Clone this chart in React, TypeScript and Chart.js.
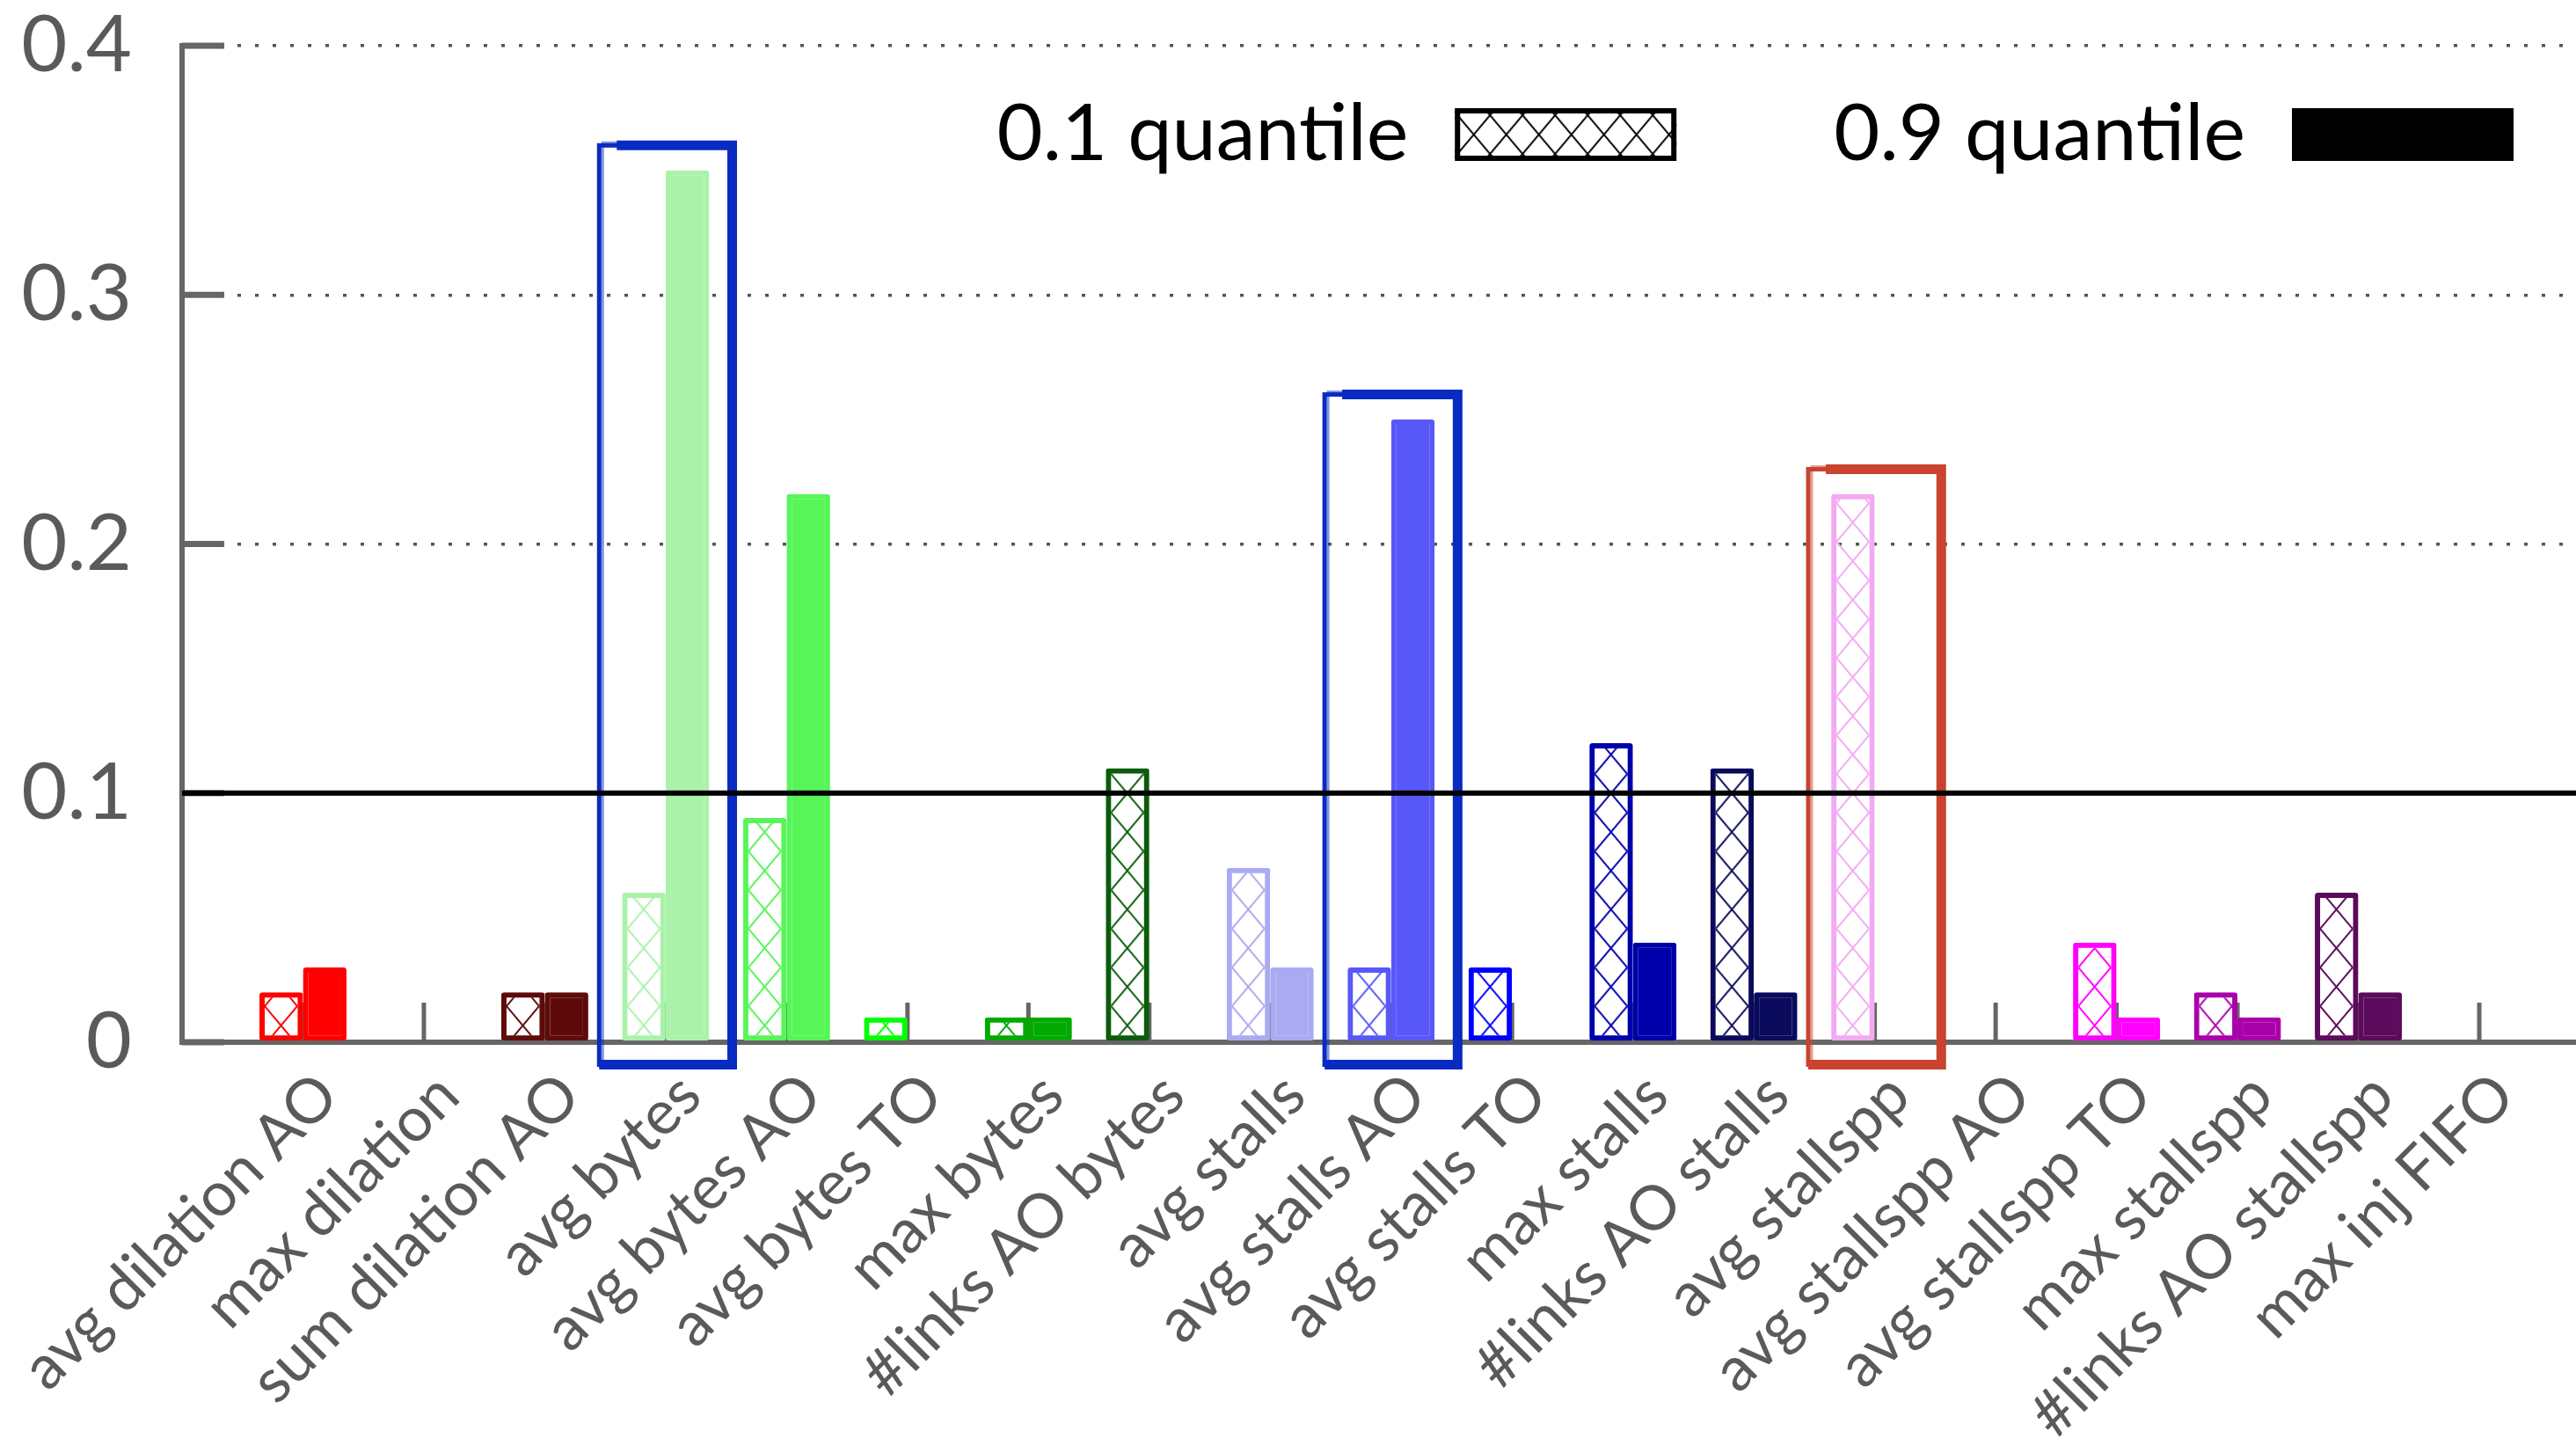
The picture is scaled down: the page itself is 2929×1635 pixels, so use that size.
import React, { useEffect, useRef } from "react";
import { Chart, registerables } from "chart.js";

Chart.register(...registerables);

// ---------------- data ----------------
const CATEGORIES = [
  "avg dilation AO",
  "max dilation",
  "sum dilation AO",
  "avg bytes",
  "avg bytes AO",
  "avg bytes TO",
  "max bytes",
  "#links AO bytes",
  "avg stalls",
  "avg stalls AO",
  "avg stalls TO",
  "max stalls",
  "#links AO stalls",
  "avg stallspp",
  "avg stallspp AO",
  "avg stallspp TO",
  "max stallspp",
  "#links AO stallspp",
  "max inj FIFO",
];

const SERIES_NAMES = ["0.1 quantile", "0.9 quantile"];

const P10 = [0.02, 0, 0.02, 0.06, 0.09, 0.01, 0.01, 0.11, 0.07, 0.03, 0.03, 0.12, 0.11, 0.22, 0, 0.04, 0.02, 0.06, 0];
const P90 = [0.03, 0, 0.02, 0.35, 0.22, 0, 0.01, 0, 0.03, 0.25, 0, 0.04, 0.02, 0, 0, 0.01, 0.01, 0.02, 0];

const COLORS = [
  "#ff0000",
  "#aa0000",
  "#5f0a0a",
  "#aaf2aa",
  "#58f558",
  "#00ff00",
  "#00aa00",
  "#0a5c0a",
  "#aaaaf2",
  "#5858f8",
  "#0000ff",
  "#0000aa",
  "#0a0a5c",
  "#f2aaf2",
  "#f558f5",
  "#ff00ff",
  "#aa00aa",
  "#5c0a5c",
  "#555555",
];

const Y_TICKS = [0, 0.1, 0.2, 0.3, 0.4];
const THRESHOLD = 0.1;

const HIGHLIGHTS = [
  { index: 3, color: "#0a2bc2" },
  { index: 9, color: "#0a2bc2" },
  { index: 13, color: "#c9432f" },
];

// ---------------- styles ----------------
const FONT = "Lato, 'Open Sans', 'DejaVu Sans', sans-serif";
const AXIS_GRAY = "#666666";
const TEXT_GRAY = "#5a5a5a";
const CAT_PCT = 0.72;
const BAR_BORDER = 6;
const TILE_W = 37;
const TILE_H = 44;

function makeTile(color: string, lw = 2): HTMLCanvasElement {
  const c = document.createElement("canvas");
  c.width = TILE_W;
  c.height = TILE_H;
  const g = c.getContext("2d")!;
  g.strokeStyle = color;
  g.lineWidth = lw;
  g.beginPath();
  for (let k = -1; k <= 1; k++) {
    g.moveTo(k * TILE_W, 0);
    g.lineTo(k * TILE_W + TILE_W, TILE_H);
    g.moveTo(k * TILE_W + TILE_W, 0);
    g.lineTo(k * TILE_W, TILE_H);
  }
  g.stroke();
  return c;
}

const axisDecorPlugin = {
  id: "axisDecor",
  beforeDatasetsDraw(chart: any) {
    const { ctx, chartArea, scales } = chart;
    const xs = scales.x;
    const ys = scales.y;
    ctx.save();
    ctx.strokeStyle = AXIS_GRAY;
    // inward x ticks at category centres
    ctx.lineWidth = 5;
    CATEGORIES.forEach((_, i) => {
      const x = xs.getPixelForValue(i);
      ctx.beginPath();
      ctx.moveTo(x, chartArea.bottom);
      ctx.lineTo(x, chartArea.bottom - 45);
      ctx.stroke();
    });
    // inward y ticks
    ctx.lineWidth = 7;
    Y_TICKS.forEach((v) => {
      const y = ys.getPixelForValue(v);
      ctx.beginPath();
      ctx.moveTo(chartArea.left, y);
      ctx.lineTo(chartArea.left + 48, y);
      ctx.stroke();
    });
    ctx.restore();
  },
  afterDatasetsDraw(chart: any) {
    const { ctx, chartArea, scales } = chart;
    const xs = scales.x;
    const ys = scales.y;
    ctx.save();
    // hand-drawn highlight boxes
    HIGHLIGHTS.forEach((h) => {
      const top = Math.max(P10[h.index], P90[h.index]) + 0.01;
      const x0 = xs.getPixelForValue(h.index - 0.55);
      const x1 = xs.getPixelForValue(h.index + 0.55);
      const y0 = ys.getPixelForValue(top);
      const y1 = ys.getPixelForValue(-0.009);
      ctx.strokeStyle = h.color;
      ctx.lineJoin = "miter";
      ctx.lineWidth = 5;
      ctx.strokeRect(x0, y0, x1 - x0, y1 - y0);
      ctx.lineWidth = 11;
      ctx.beginPath();
      ctx.moveTo(x0 + 20, y0);
      ctx.lineTo(x1, y0);
      ctx.lineTo(x1, y1);
      ctx.lineTo(x0, y1);
      ctx.stroke();
      ctx.globalAlpha = 0.5;
      ctx.lineWidth = 3;
      ctx.strokeRect(x0 + 4, y0 - 3, x1 - x0 - 2, y1 - y0 + 5);
      ctx.globalAlpha = 1;
    });
    // threshold line
    const ty = ys.getPixelForValue(THRESHOLD);
    ctx.strokeStyle = "#000000";
    ctx.lineWidth = 6;
    ctx.beginPath();
    ctx.moveTo(chartArea.left, ty);
    ctx.lineTo(chartArea.right, ty);
    ctx.stroke();
    ctx.restore();
  },
};

const legendPlugin = {
  id: "quantileLegend",
  afterDraw(chart: any) {
    const { ctx, chartArea } = chart;
    ctx.save();
    ctx.font = `90px ${FONT}`;
    ctx.textBaseline = "middle";
    ctx.textAlign = "right";
    const cy = chartArea.top + 101;
    const boxW = 252;
    const boxH = 60;
    const gapText = 53;
    const gapItem = 179;
    let right = chartArea.right - 71;
    for (let k = SERIES_NAMES.length - 1; k >= 0; k--) {
      const boxLeft = right - boxW;
      const boxTop = cy - boxH / 2;
      if (k === 0) {
        ctx.fillStyle = "#ffffff";
        ctx.fillRect(boxLeft, boxTop, boxW, boxH);
        const p = ctx.createPattern(makeTile("#000000", 2), "repeat");
        if (p) {
          p.setTransform(new DOMMatrix().translate(boxLeft + 3, boxTop + 8));
          ctx.fillStyle = p;
          ctx.fillRect(boxLeft, boxTop, boxW, boxH);
        }
      } else {
        ctx.fillStyle = "#000000";
        ctx.fillRect(boxLeft, boxTop, boxW, boxH);
      }
      ctx.strokeStyle = "#000000";
      ctx.lineWidth = 6;
      ctx.strokeRect(boxLeft + 3, boxTop + 3, boxW - 6, boxH - 6);
      const textRight = boxLeft - gapText;
      ctx.fillStyle = "#000000";
      ctx.fillText(SERIES_NAMES[k], textRight, cy);
      const w = ctx.measureText(SERIES_NAMES[k]).width;
      right = textRight - w - gapItem;
    }
    ctx.restore();
  },
};

export default function App() {
  const canvasRef = useRef<HTMLCanvasElement | null>(null);

  useEffect(() => {
    const canvas = canvasRef.current;
    if (!canvas) return;
    const tiles = COLORS.map((c) => makeTile(c, 2));

    const hatchFill = (c: any) => {
      const chart = c.chart;
      const i = c.dataIndex ?? 0;
      const p = chart.ctx.createPattern(tiles[i], "repeat");
      const xs = chart.scales && chart.scales.x;
      if (p && xs && c.dataIndex !== undefined) {
        const step = xs.getPixelForValue(1) - xs.getPixelForValue(0);
        const left = xs.getPixelForValue(i) - (step * CAT_PCT) / 2 + BAR_BORDER;
        p.setTransform(new DOMMatrix().translate(left, 0));
      }
      return p;
    };

    const chart = new Chart(canvas, {
      type: "bar",
      data: {
        datasets: [
          {
            label: SERIES_NAMES[0],
            data: P10.map((v, i) => ({ x: i, y: v })),
            backgroundColor: hatchFill as any,
            borderColor: COLORS,
            borderWidth: BAR_BORDER,
            borderSkipped: false,
            borderRadius: 3,
            categoryPercentage: CAT_PCT,
            barPercentage: 1,
          },
          {
            label: SERIES_NAMES[1],
            data: P90.map((v, i) => ({ x: i, y: v })),
            backgroundColor: COLORS,
            borderColor: COLORS,
            borderWidth: BAR_BORDER,
            borderSkipped: false,
            borderRadius: 3,
            categoryPercentage: CAT_PCT,
            barPercentage: 1,
          },
        ],
      },
      options: {
        animation: false,
        responsive: true,
        maintainAspectRatio: false,
        layout: { padding: { top: 52, left: 0, right: 0, bottom: 0 } },
        plugins: {
          legend: { display: false },
          tooltip: { enabled: false },
        },
        scales: {
          x: {
            type: "linear",
            offset: false,
            min: -1,
            max: 18.8,
            grid: { display: false, drawTicks: false, offset: false },
            border: { display: true, color: AXIS_GRAY, width: 6 },
            ticks: {
              stepSize: 1,
              autoSkip: false,
              includeBounds: false,
              minRotation: 45,
              maxRotation: 45,
              padding: 24,
              labelOffset: 28,
              color: TEXT_GRAY,
              font: { family: FONT, size: 70, lineHeight: 1 },
              callback: (v: any) => {
                const n = Number(v);
                return Number.isInteger(n) && n >= 0 && n < CATEGORIES.length ? CATEGORIES[n] : "";
              },
            },
            afterFit: (s: any) => {
              s.height = 450;
              s.paddingLeft = 0;
              s.paddingRight = 0;
            },
          },
          y: {
            type: "linear",
            min: Y_TICKS[0],
            max: Y_TICKS[Y_TICKS.length - 1],
            grid: {
              drawTicks: false,
              lineWidth: 3.5,
              color: (c: any) => {
                const v = c.tick ? c.tick.value : 0;
                return Math.abs(v) < 1e-9 || Math.abs(v - THRESHOLD) < 1e-9 ? "rgba(0,0,0,0)" : "#555555";
              },
            },
            border: { display: true, color: AXIS_GRAY, width: 6, dash: [4, 16] },
            ticks: {
              stepSize: 0.1,
              padding: 57,
              color: TEXT_GRAY,
              font: { family: FONT, size: 90, lineHeight: 1 },
              callback: (v: any) => String(+Number(v).toFixed(1)),
            },
            afterFit: (s: any) => {
              s.width = 207;
              s.paddingTop = 0;
              s.paddingBottom = 0;
            },
          },
        },
      },
      plugins: [axisDecorPlugin, legendPlugin],
    });

    return () => {
      chart.destroy();
    };
  }, []);

  return (
    <div
      style={{
        position: "fixed",
        left: 0,
        top: 0,
        width: "2929px",
        height: "1635px",
        background: "#ffffff",
      }}
    >
      <canvas ref={canvasRef} />
    </div>
  );
}
